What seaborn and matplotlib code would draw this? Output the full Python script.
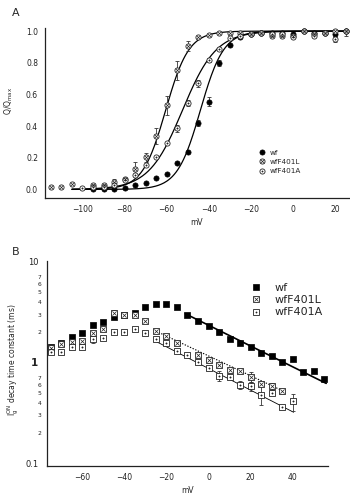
import matplotlib
matplotlib.use("Agg")
import matplotlib.pyplot as plt
import numpy as np
import seaborn as sns
from matplotlib.lines import Line2D
from matplotlib.ticker import FixedLocator, FixedFormatter

# ---- panel A: normalised charge vs voltage ----
a_wf_v = [-95, -90, -85, -80, -75, -70, -65, -60, -55, -50, -45, -40, -35, -30,
          -25, -20, -15, -10, -5, 0, 5, 10, 15, 20, 25]
a_wf_q = [0.0, 0.0, 0.0, 0.01, 0.027, 0.042, 0.07, 0.10, 0.168, 0.238, 0.42, 0.554,
          0.80, 0.91, 0.96, 0.98, 0.99, 0.99, 0.99, 0.98, 1.0, 0.99, 0.99, 0.98, 1.0]
a_wf_e = [0, 0, 0, 0, 0, 0, 0, 0, 0, 0, 0.02, 0.03,
          0.02, 0, 0, 0, 0, 0, 0, 0, 0, 0, 0, 0.02, 0.03]

a_l_v = [-115, -110, -105, -95, -90, -85, -80, -75, -70, -65, -60, -55, -50, -45,
         -40, -35, -30, -25, -20, -15, -10, -5, 0, 5, 10, 15, 20, 25]
a_l_q = [0.013, 0.012, 0.033, 0.03, 0.03, 0.048, 0.065, 0.132, 0.202, 0.337, 0.533,
         0.754, 0.906, 0.96, 0.975, 0.985, 0.99, 0.99, 0.98, 0.99, 0.97, 0.97, 0.97,
         1.0, 0.98, 0.99, 1.0, 1.0]
a_l_e = [0, 0, 0, 0, 0, 0.02, 0, 0.04, 0.03, 0.05, 0.06,
         0.06, 0.03, 0, 0, 0, 0, 0, 0, 0, 0, 0, 0,
         0, 0, 0, 0, 0]

a_a_v = [-100, -95, -90, -85, -80, -75, -70, -65, -60, -55, -50, -45, -40, -35,
         -30, -25, -20, -15, -10, -5, 0, 5, 10, 15, 20, 25]
a_a_q = [0.01, 0.013, 0.016, 0.025, 0.06, 0.09, 0.153, 0.206, 0.294, 0.385, 0.547,
         0.67, 0.817, 0.884, 0.955, 0.97, 0.98, 0.99, 0.98, 0.98, 0.96, 1.0, 0.97,
         0.99, 0.95, 1.0]
a_a_e = [0, 0, 0, 0, 0, 0, 0, 0, 0, 0.02, 0.02,
         0.02, 0.01, 0, 0, 0, 0, 0, 0, 0, 0, 0, 0,
         0, 0.02, 0]

# Boltzmann fit parameters (wf, wfF401L, wfF401A)
fit_vhalf = [-44.0, -60.5, -52.5]
fit_k = [5.5, 5.5, 8.0]

# ---- panel B: decay time constant vs voltage ----
b_wf_v = [-75, -70, -65, -60, -55, -50, -45, -40, -35, -30, -25, -20, -15, -10,
          -5, 0, 5, 10, 15, 20, 25, 30, 35, 40, 45, 50, 55]
b_wf_t = [1.44, 1.56, 1.79, 1.96, 2.37, 2.5, 2.86, 2.97, 3.14, 3.55, 3.83, 3.83,
          3.55, 2.97, 2.61, 2.28, 1.99, 1.72, 1.58, 1.42, 1.24, 1.17, 1.0, 1.08,
          0.81, 0.83, 0.68]

b_l_v = [-75, -70, -65, -60, -55, -50, -45, -40, -35, -30, -25, -20, -15, -5,
         0, 5, 10, 15, 20, 25, 30, 35]
b_l_t = [1.4, 1.53, 1.59, 1.65, 1.96, 2.14, 3.1, 3.0, 3.0, 2.61, 2.08, 1.85, 1.56,
         1.19, 1.06, 0.95, 0.85, 0.83, 0.72, 0.61, 0.58, 0.52]
b_l_e = [0, 0, 0, 0, 0, 0, 0.25, 0, 0, 0, 0, 0, 0,
         0, 0, 0, 0, 0, 0.08, 0, 0.05, 0]

b_a_v = [-75, -70, -65, -60, -55, -50, -45, -40, -35, -30, -25, -20, -15, -10,
         -5, 0, 5, 10, 15, 20, 25, 30, 35, 40]
b_a_t = [1.27, 1.27, 1.44, 1.44, 1.71, 1.75, 2.03, 1.99, 2.14, 1.96, 1.72, 1.56,
         1.31, 1.19, 1.0, 0.88, 0.74, 0.72, 0.6, 0.58, 0.48, 0.5, 0.36, 0.41]
b_a_e = [0, 0, 0, 0, 0.15, 0, 0, 0, 0, 0, 0, 0,
         0, 0, 0, 0, 0.08, 0, 0.06, 0.06, 0.1, 0, 0, 0.08]

# exponential fit lines (end points)
b_fit_wf_v = [-11, 56]
b_fit_wf_t = [3.05, 0.62]
b_fit_l_v = [-25, 35.5]
b_fit_l_t = [2.05, 0.52]
b_fit_a_v = [-25, 40.5]
b_fit_a_t = [1.62, 0.32]

labels = ["wf", "wfF401L", "wfF401A"]


def errbars(ax, v, y, e):
    vv = [a for a, b in zip(v, e) if b > 0]
    yy = [a for a, b in zip(y, e) if b > 0]
    ee = [b for b in e if b > 0]
    ax.errorbar(vv, yy, yerr=ee, fmt="none", ecolor="#333333",
                elinewidth=0.6, capsize=1.5, capthick=0.6, zorder=2)


def style_axes(ax):
    sns.despine(ax=ax)
    for s in ["left", "bottom"]:
        ax.spines[s].set_linewidth(0.9)
        ax.spines[s].set_color("#222222")
    ax.tick_params(direction="out", length=3, width=0.8, labelsize=5.5,
                   colors="#222222", pad=2)


def main() -> None:
    sns.set_style("white")
    plt.rcParams["font.family"] = ["DejaVu Sans"]
    fig = plt.figure(figsize=(3.5, 4.99), dpi=100)

    # ---------- A ----------
    ax = fig.add_axes([0.1286, 0.603, 0.868, 0.341])
    vv = np.linspace(-105, 27, 300)
    for vh, k in zip(fit_vhalf, fit_k):
        sns.lineplot(x=vv, y=1.0 / (1.0 + np.exp((vh - vv) / k)), ax=ax,
                     color="black", linewidth=0.9, zorder=1)

    errbars(ax, a_wf_v, a_wf_q, a_wf_e)
    errbars(ax, a_l_v, a_l_q, a_l_e)
    errbars(ax, a_a_v, a_a_q, a_a_e)

    sns.scatterplot(x=a_wf_v, y=a_wf_q, ax=ax, marker="o", s=14, color="black",
                    edgecolor="black", linewidth=0.5, zorder=3)
    sns.scatterplot(x=a_l_v, y=a_l_q, ax=ax, marker="o", s=14, color="white",
                    edgecolor="#222222", linewidth=0.6, zorder=3)
    sns.scatterplot(x=a_l_v, y=a_l_q, ax=ax, marker="x", s=6, color="#222222",
                    linewidth=0.5, zorder=4)
    sns.scatterplot(x=a_a_v, y=a_a_q, ax=ax, marker="o", s=14, color="white",
                    edgecolor="#222222", linewidth=0.6, zorder=3)
    sns.scatterplot(x=a_a_v, y=a_a_q, ax=ax, marker="o", s=1.2, color="#222222",
                    edgecolor="#222222", linewidth=0.2, zorder=4)

    ax.set_xlim(-117.8, 26.5)
    ax.set_ylim(-0.055, 1.02)
    ax.set_xticks([-100, -80, -60, -40, -20, 0, 20])
    ax.set_yticks([0.0, 0.2, 0.4, 0.6, 0.8, 1.0])
    ax.set_yticklabels(["0.0", "0.2", "0.4", "0.6", "0.8", "1.0"])
    style_axes(ax)
    ax.set_xlabel("mV", fontsize=5.5, labelpad=3)
    ax.set_ylabel(r"Q/Q$_{\mathrm{max}}$", fontsize=5.5)
    ax.yaxis.set_label_coords(-0.098, 0.57)

    hA = [
        Line2D([], [], ls="", marker="o", ms=3.7, mfc="black", mec="black", mew=0.5),
        (Line2D([], [], ls="", marker="o", ms=3.7, mfc="white", mec="#222222", mew=0.6),
         Line2D([], [], ls="", marker="x", ms=2.4, mec="#222222", mew=0.5)),
        (Line2D([], [], ls="", marker="o", ms=3.7, mfc="white", mec="#222222", mew=0.6),
         Line2D([], [], ls="", marker="o", ms=1.0, mfc="#222222", mec="#222222", mew=0.2)),
    ]
    ax.legend(hA, labels, loc="upper left", bbox_to_anchor=(0.705, 0.285),
              frameon=False, fontsize=5.2, handlelength=0.8, handletextpad=0.6,
              labelspacing=0.45, borderpad=0, borderaxespad=0)

    fig.text(0.034, 0.983, "A", fontsize=8, va="top", ha="left")

    # ---------- B ----------
    ax = fig.add_axes([0.1334, 0.0661, 0.8046, 0.4099])
    sns.lineplot(x=b_fit_wf_v, y=b_fit_wf_t, ax=ax, color="black", linewidth=1.2,
                 zorder=1)
    sns.lineplot(x=b_fit_l_v, y=b_fit_l_t, ax=ax, color="black", linewidth=0.8,
                 linestyle=(0, (1.2, 1.4)), zorder=1)
    sns.lineplot(x=b_fit_a_v, y=b_fit_a_t, ax=ax, color="black", linewidth=0.6,
                 zorder=1)

    errbars(ax, b_l_v, b_l_t, b_l_e)
    errbars(ax, b_a_v, b_a_t, b_a_e)

    sns.scatterplot(x=b_wf_v, y=b_wf_t, ax=ax, marker="s", s=14, color="black",
                    edgecolor="black", linewidth=0.5, zorder=3)
    sns.scatterplot(x=b_l_v, y=b_l_t, ax=ax, marker="s", s=14, color="white",
                    edgecolor="#222222", linewidth=0.6, zorder=3)
    sns.scatterplot(x=b_l_v, y=b_l_t, ax=ax, marker="x", s=9, color="#222222",
                    linewidth=0.5, zorder=4)
    sns.scatterplot(x=b_a_v, y=b_a_t, ax=ax, marker="s", s=14, color="white",
                    edgecolor="#222222", linewidth=0.6, zorder=3)
    sns.scatterplot(x=b_a_v, y=b_a_t, ax=ax, marker="o", s=1.2, color="#222222",
                    edgecolor="#222222", linewidth=0.2, zorder=4)

    ax.set_yscale("log")
    ax.set_xlim(-77, 57)
    ax.set_ylim(0.0935, 10.1)
    ax.set_xticks([-60, -40, -20, 0, 20, 40])
    ax.yaxis.set_major_locator(FixedLocator([0.1, 1, 10]))
    ax.yaxis.set_major_formatter(FixedFormatter(["0.1", "1", "10"]))
    minors = [0.2, 0.3, 0.4, 0.5, 0.6, 0.7, 2, 3, 4, 5, 6, 7]
    ax.yaxis.set_minor_locator(FixedLocator(minors))
    ax.yaxis.set_minor_formatter(FixedFormatter(
        ["2", "3", "4", "5", "6", "7", "2", "3", "4", "5", "6", "7"]))
    style_axes(ax)
    ax.tick_params(axis="y", which="major", length=4, labelsize=6)
    ax.tick_params(axis="y", which="minor", length=2.5, width=0.7, labelsize=4.3,
                   colors="#222222", pad=1.5)
    for t in ax.yaxis.get_majorticklabels():
        if t.get_text() == "1":
            t.set_fontsize(7.5)
            t.set_fontweight("bold")
    ax.set_xlabel("mV", fontsize=5.5, labelpad=3)
    ax.set_ylabel(r"$\mathrm{I_g^{ON}}$ decay time constant (ms)", fontsize=5.5)
    ax.yaxis.set_label_coords(-0.09, 0.52)

    hB = [
        Line2D([], [], ls="", marker="s", ms=4.6, mfc="black", mec="black", mew=0.5),
        (Line2D([], [], ls="", marker="s", ms=4.6, mfc="white", mec="#222222", mew=0.6),
         Line2D([], [], ls="", marker="x", ms=3.4, mec="#222222", mew=0.5)),
        (Line2D([], [], ls="", marker="s", ms=4.6, mfc="white", mec="#222222", mew=0.6),
         Line2D([], [], ls="", marker="o", ms=1.0, mfc="#222222", mec="#222222", mew=0.2)),
    ]
    ax.legend(hB, labels, loc="upper left", bbox_to_anchor=(0.725, 0.895),
              frameon=False, fontsize=8, handlelength=1.0, handletextpad=1.1,
              labelspacing=0.2, borderpad=0, borderaxespad=0)

    fig.text(0.034, 0.505, "B", fontsize=8, va="top", ha="left")

    fig.savefig("out.png", dpi=100, facecolor="white")


if __name__ == "__main__":
    main()
